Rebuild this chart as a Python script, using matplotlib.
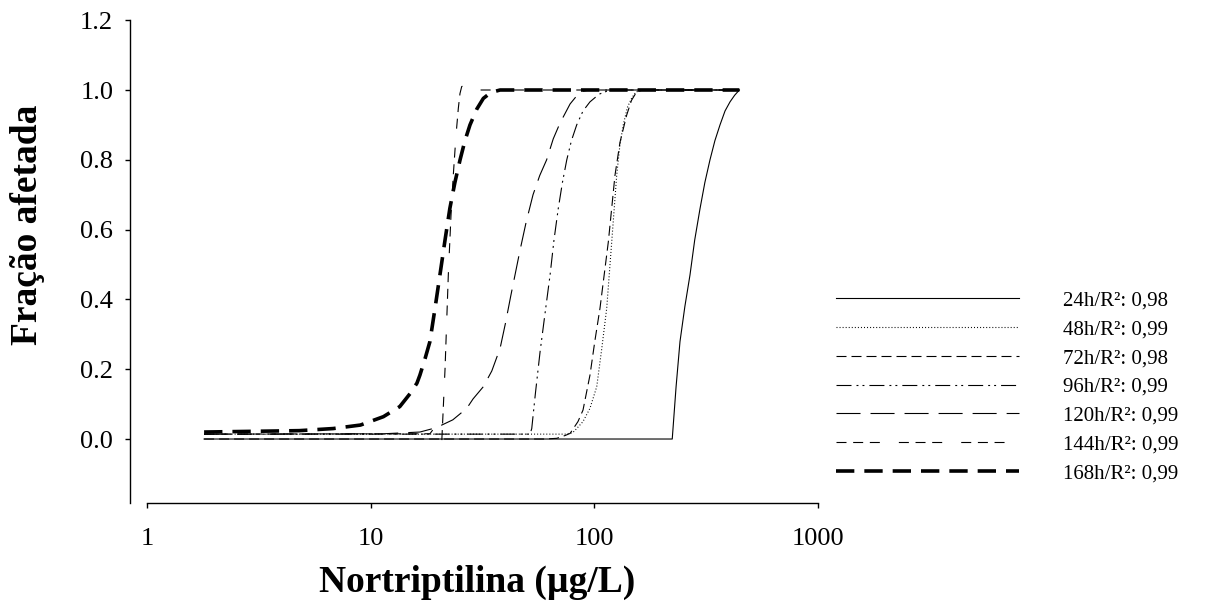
import numpy as np
import matplotlib
matplotlib.use('Agg')
import matplotlib.pyplot as plt
from matplotlib.ticker import FixedLocator, FixedFormatter, NullLocator

plt.rcParams['font.family'] = ['Liberation Serif', 'DejaVu Serif']
plt.rcParams['lines.scale_dashes'] = False

# values (concentration in ug/L, affected fraction)
x_24h = [1.8, 223, 232, 241.5, 254, 267.7, 281, 296.8, 312, 328.9, 346, 364.6, 384, 404.2, 424, 445]
y_24h = [0.0, 0.0, 0.15, 0.279, 0.38, 0.47, 0.57, 0.66, 0.735, 0.80, 0.855, 0.90, 0.94, 0.966, 0.985, 1.0]

x_48h = [1.8, 74.0, 80.0, 83.4, 89.0, 95.6, 102.5, 108.0, 113.6, 119.6, 125.9, 130.0,
         134.7, 140.5, 146.9, 153.0, 160.0, 445]
y_48h = [0.014, 0.014, 0.018, 0.03, 0.05, 0.088, 0.15, 0.26, 0.375, 0.565, 0.756, 0.84,
         0.90, 0.95, 0.977, 0.993, 1.0, 1.0]

x_72h = [1.8, 60.2, 67.9, 74.0, 77.9, 84.5, 89.0, 95.6, 100.5, 106.0, 115.5, 123.7, 130.2,
         139.5, 146.5, 154.7, 165.0, 445]
y_72h = [0.0, 0.0, 0.002, 0.01, 0.016, 0.05, 0.083, 0.183, 0.28, 0.375, 0.565, 0.756, 0.85,
         0.928, 0.97, 0.995, 1.0, 1.0]

x_96h = [1.8, 51.6, 52.5, 54.5, 57.2, 60.2, 63.4, 66.0, 69.0, 72.0, 75.3, 79.0, 83.4,
         89.0, 95.6, 105.0, 117.5, 445]
y_96h = [0.014, 0.014, 0.03, 0.13, 0.25, 0.36, 0.47, 0.57, 0.661, 0.735, 0.80, 0.855, 0.90,
         0.94, 0.966, 0.988, 1.0, 1.0]

x_120h = [1.8, 11.4, 16.6, 19.0, 20.8, 23.3, 26.9, 28.7, 31.9, 34.8, 37.9, 40.0, 42.3, 46.5,
          49.5, 53.2, 57.0, 61.2, 65.5, 70.2, 77.9, 86.3, 95.0, 445]
y_120h = [0.014, 0.015, 0.02, 0.03, 0.04, 0.055, 0.088, 0.115, 0.15, 0.195, 0.26, 0.33, 0.41,
          0.54, 0.62, 0.70, 0.755, 0.80, 0.86, 0.905, 0.96, 0.995, 1.0, 1.0]

x_144h = [1.8, 18.4, 19.0, 20.0, 20.78, 21.5, 22.24, 22.86, 23.41, 24.07, 24.65,
          25.08, 25.53, 26.14, 27.24, 29.9, 445]
y_144h = [0.014, 0.015, 0.027, 0.015, -0.01, 0.2, 0.47, 0.64, 0.756, 0.87, 0.947,
          0.99, 1.01, 1.012, 1.005, 1.0, 1.0]

x_168h = [1.8, 4.8, 6.8, 9.0, 11.4, 13.5, 15.0, 16.1, 16.6, 17.5, 18.4, 19.4, 20.4, 21.5,
          22.6, 23.8, 25.1, 26.4, 27.8, 29.8, 31.9, 34.5, 37.9, 445]
y_168h = [0.02, 0.024, 0.03, 0.04, 0.064, 0.093, 0.13, 0.16, 0.183, 0.23, 0.279, 0.375, 0.47,
          0.57, 0.661, 0.735, 0.80, 0.855, 0.90, 0.945, 0.976, 0.993, 1.0, 1.0]

labels = ['24h/R²: 0,98', '48h/R²: 0,99', '72h/R²: 0,98', '96h/R²: 0,99',
          '120h/R²: 0,99', '144h/R²: 0,99', '168h/R²: 0,99']
y_ticks = [0.0, 0.2, 0.4, 0.6, 0.8, 1.0, 1.2]
x_ticks = [1, 10, 100, 1000]

series = [(x_24h, y_24h), (x_48h, y_48h), (x_72h, y_72h), (x_96h, y_96h),
          (x_120h, y_120h), (x_144h, y_144h), (x_168h, y_168h)]
styles = [
    dict(lw=0.8, ls='-'),
    dict(lw=0.8, ls=(0, (0.7, 1.5))),
    dict(lw=0.8, ls=(0, (7.2, 3.6))),
    dict(lw=0.8, ls=(0, (10.8, 3.6, 1.4, 2.9, 1.4, 3.6))),
    dict(lw=0.8, ls=(0, (17.3, 7.2))),
    dict(lw=0.8, ls=(0, (7.2, 4.8, 7.2, 4.8, 7.2, 13.7))),
    dict(lw=2.6, ls=(0, (13.2, 7.2))),
]

fig = plt.figure(figsize=(12.06, 6.01), dpi=100)
ax = fig.add_axes([0.12189, 0.16389, 0.55639, 0.8025])

for (xs, ys), st, lab in zip(series, styles, labels):
    ax.plot(xs, ys, color='black', label=lab, **st)

ax.set_xscale('log')
ax.set_xlim(1, 1000)
ax.set_ylim(-0.1819, 1.2)

ax.xaxis.set_major_locator(FixedLocator(x_ticks))
ax.xaxis.set_major_formatter(FixedFormatter([str(v) for v in x_ticks]))
ax.xaxis.set_minor_locator(NullLocator())
ax.set_yticks(y_ticks)
ax.set_yticklabels(['%.1f' % v for v in y_ticks])

for side in ['top', 'right']:
    ax.spines[side].set_visible(False)
ax.spines['left'].set_position(('outward', 12.2))
ax.spines['left'].set_linewidth(1.0)
ax.spines['bottom'].set_linewidth(1.0)

ax.tick_params(axis='y', direction='out', length=3.6, width=1.0, pad=8.5, labelsize=19)
ax.tick_params(axis='x', direction='out', length=3.6, width=1.0, pad=15, labelsize=19)

ax.set_xlabel('Nortriptilina (µg/L)', fontsize=27, fontweight='bold')
ax.xaxis.set_label_coords(0.4918, -0.13)
ax.set_ylabel('Fração afetada', fontsize=27, fontweight='bold')
ax.yaxis.set_label_coords(-0.152, 0.575)

fig.legend(loc='upper left', bbox_to_anchor=(0.6932, 0.5158), frameon=False,
           fontsize=15, handlelength=8.8, handletextpad=2.1, labelspacing=0.44,
           borderpad=0, borderaxespad=0)

fig.savefig('out.png', dpi=100)
